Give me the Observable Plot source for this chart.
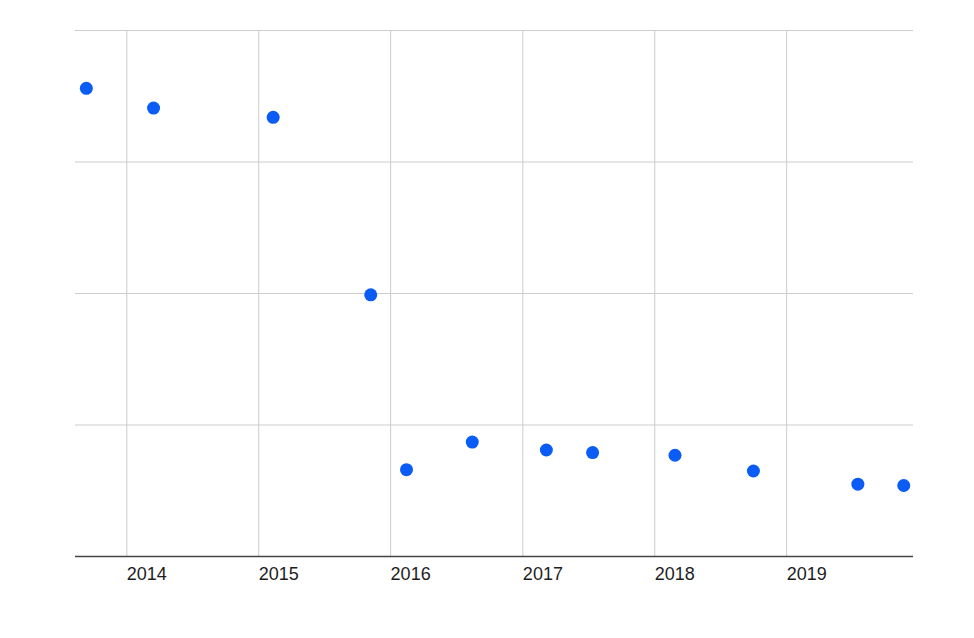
<!DOCTYPE html>
<html>
<head>
<meta charset="utf-8">
<script src="https://cdn.jsdelivr.net/npm/d3@7"></script>
<script src="https://cdn.jsdelivr.net/npm/@observablehq/plot@0.6"></script>
<style>
  html, body { margin: 0; padding: 0; background: #fff; }
</style>
</head>
<body>
<div id="chart"></div>
<script>
// Observation dates and values (y axis is unlabeled in the reference; units are relative)
const dates = ["2013-09-11", "2014-03-16", "2015-02-10", "2015-11-07", "2016-02-14", "2016-08-14",
               "2017-03-07", "2017-07-13", "2018-02-26", "2018-10-01", "2019-07-17", "2019-11-21"];
const values = [35.6, 34.1, 33.4, 19.9, 6.6, 8.7, 8.1, 7.9, 7.7, 6.5, 5.5, 5.4];
const yearTicks = [2014, 2015, 2016, 2017, 2018, 2019];
const yTicks = [10, 20, 30, 40];
const xDomain = ["2013-08-12", "2019-12-18"];
const yDomain = [0, 40];

const data = dates.map((d, i) => ({date: new Date(d), value: values[i]}));
const yearDates = yearTicks.map(y => new Date(Date.UTC(y, 0, 1)));

const chart = Plot.plot({
  width: 974,
  height: 638,
  marginLeft: 75,
  marginRight: 61,
  marginTop: 30,
  marginBottom: 82,
  style: {fontFamily: "'Liberation Sans', Arial, sans-serif", fontSize: "18px", color: "#1e1e1e", background: "#fff", overflow: "visible"},
  x: {type: "utc", domain: xDomain.map(d => new Date(d))},
  y: {domain: yDomain, axis: null},
  marks: [
    Plot.gridX(yearDates, {stroke: "#cccccc", strokeOpacity: 1, strokeWidth: 1}),
    Plot.gridY(yTicks, {stroke: "#cccccc", strokeOpacity: 1, strokeWidth: 1}),
    Plot.ruleY([0], {stroke: "#444", strokeWidth: 1.6}),
    Plot.axisX(yearDates, {tickSize: 0, tickPadding: 11, textAnchor: "start", fill: "#1e1e1e",
      tickFormat: d => String(d.getUTCFullYear()), label: null}),
    Plot.dot(data, {x: "date", y: "value", r: 6.5, fill: "#0b5cf4", stroke: "none"})
  ]
});
document.getElementById("chart").appendChild(chart);
</script>
</body>
</html>
